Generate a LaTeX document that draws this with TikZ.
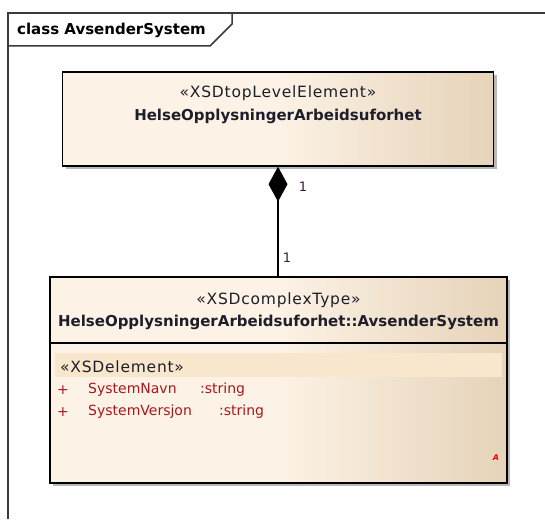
\documentclass[tikz,border=0pt]{standalone}
\usepackage{fontspec}
\setmainfont{DejaVu Sans}
\newfontfamily\stereofont[LetterSpace=5]{DejaVu Sans}
\usetikzlibrary{arrows.meta,shadows}
\definecolor{frameC}{HTML}{3A3A3A}
\definecolor{boxL}{HTML}{FCF2E5}
\definecolor{boxR}{HTML}{E6D3B9}
\definecolor{attrC}{HTML}{A8171E}
\definecolor{bandC}{HTML}{F8E6CD}
\definecolor{txtC}{HTML}{1E1E2A}
\definecolor{multC}{HTML}{3A1A3A}
\begin{document}
\begin{tikzpicture}[x=1pt,y=-1pt,
  umlbox/.style={draw=black, line width=1.4pt, left color=boxL, right color=boxR, middle color=boxL,
    drop shadow={shadow xshift=3pt, shadow yshift=-3pt, fill=black!28, opacity=1}, inner sep=0pt},
  stereo/.style={text=txtC, font=\stereofont\fontsize{15.5}{17}\selectfont, inner sep=0pt},
  cname/.style={text=txtC, font=\fontsize{15}{17}\selectfont\bfseries, inner sep=0pt},
  attr/.style={text=attrC, font=\fontsize{14}{16}\selectfont, inner sep=0pt, anchor=west},
  mult/.style={text=multC, font=\fontsize{13}{15}\selectfont, inner sep=0pt},
  frame/.style={draw=frameC, line width=1.5pt}]
\useasboundingbox (0,0) rectangle (545,519);
% frame
\draw[frame] (8,519) -- (8,13) -- (545,13);
\draw[frame] (8,46) -- (210,46) -- (232,24) -- (232,13);
\node[text=black, font=\fontsize{15}{17}\selectfont\bfseries, inner sep=0pt, anchor=west] (ftitle) at (17,30) {class AvsenderSystem};
% boxes
\node[umlbox, minimum width=431pt, minimum height=94pt] (top) at (278,119) {};
\node[umlbox, minimum width=457pt, minimum height=206pt] (cls) at (278.5,380) {};
\coordinate (sepy) at (0,343);
\fill[bandC] (55,353) rectangle (502,377);
\draw[line width=1.2pt] (cls.west |- sepy) -- (cls.east |- sepy);
% texts
\node[stereo] (s1) at (278,93) {«XSDtopLevelElement»};
\node[cname] (n1) at (278,116) {HelseOpplysningerArbeidsuforhet};
\node[stereo] (s2) at (278.5,300) {«XSDcomplexType»};
\node[cname] (n2) at (278.5,322) {HelseOpplysningerArbeidsuforhet::AvsenderSystem};
\node[stereo, anchor=west] (s3) at (60,367) {«XSDelement»};
\node[attr] (p1) at (57,390) {+};
\node[attr] (a1) at (88,390) {SystemNavn};
\node[attr] (a1t) at (200,390) {:string};
\node[attr] (p2) at (57,412) {+};
\node[attr] (a2) at (88,412) {SystemVersjon};
\node[attr] (a2t) at (219,412) {:string};
\node[text=red, font=\fontsize{8}{9}\selectfont\bfseries\itshape, inner sep=0pt] (abs) at (496,458) {A};
% connector
\draw[line width=1.2pt, {Diamond[length=35pt,width=19pt]}-] (top.south) -- (top.south |- cls.north);
\node[mult] (m1) at (303,187) {1};
\node[mult] (m2) at (287,258) {1};
\end{tikzpicture}
\end{document}
